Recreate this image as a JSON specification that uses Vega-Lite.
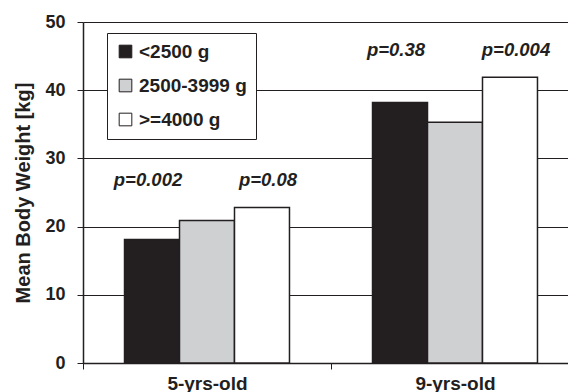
{
  "$schema": "https://vega.github.io/schema/vega-lite/v6.json",
  "width": 485,
  "height": 341,
  "autosize": "none",
  "padding": {"left": 83, "top": 22, "right": 0, "bottom": 29},
  "background": "white",
  "config": {
    "view": {"stroke": null},
    "font": "Liberation Sans",
    "axis": {"labelFont": "Liberation Sans", "titleFont": "Liberation Sans"}
  },
  "datasets": {
    "pvals": [
      {"age": "5-yrs-old", "group": "<2500 g", "pos": 26.8, "label": "p=0.002", "side": "left"},
      {"age": "5-yrs-old", "group": ">=4000 g", "pos": 26.8, "label": "p=0.08", "side": "right"},
      {"age": "9-yrs-old", "group": "<2500 g", "pos": 45.9, "label": "p=0.38", "side": "left"},
      {"age": "9-yrs-old", "group": ">=4000 g", "pos": 45.9, "label": "p=0.004", "side": "right"}
    ]
  },
  "layer": [
    {
      "data": {
        "values": [
          {"age": "5-yrs-old", "group": "<2500 g", "weight": 18.1},
          {"age": "5-yrs-old", "group": "2500-3999 g", "weight": 20.9},
          {"age": "5-yrs-old", "group": ">=4000 g", "weight": 22.8},
          {"age": "9-yrs-old", "group": "<2500 g", "weight": 38.2},
          {"age": "9-yrs-old", "group": "2500-3999 g", "weight": 35.3},
          {"age": "9-yrs-old", "group": ">=4000 g", "weight": 41.9}
        ]
      },
      "mark": {"type": "bar", "stroke": "#231f20", "strokeWidth": 1.5},
      "encoding": {
        "x": {
          "field": "age", "type": "nominal",
          "scale": {"range": [0, 496], "paddingInner": 0, "paddingOuter": 0},
          "axis": {
            "title": null, "labelAngle": 0, "tickBand": "extent",
            "labelFontSize": 19, "labelFontWeight": "bold", "labelColor": "#231f20",
            "labelPadding": 5, "tickSize": 6, "tickColor": "#231f20", "tickWidth": 1,
            "domainColor": "#231f20", "domainWidth": 1.5, "grid": false
          }
        },
        "xOffset": {
          "field": "group", "type": "nominal",
          "sort": ["<2500 g", "2500-3999 g", ">=4000 g"],
          "scale": {"paddingInner": 0, "paddingOuter": 0.755}
        },
        "y": {
          "field": "weight", "type": "quantitative",
          "scale": {"domain": [0, 50], "nice": false},
          "axis": {
            "title": "Mean Body Weight [kg]", "values": [0, 10, 20, 30, 40, 50],
            "titleFontSize": 20, "titleFontWeight": "bold", "titleColor": "#231f20", "titlePadding": 11,
            "labelFontSize": 18, "labelFontWeight": "bold", "labelColor": "#231f20", "labelPadding": 12,
            "tickSize": 6, "tickColor": "#231f20", "tickWidth": 1,
            "domainColor": "#231f20", "domainWidth": 1.5,
            "grid": true, "gridColor": "#231f20", "gridWidth": 1, "gridOpacity": 1
          }
        },
        "color": {
          "field": "group", "type": "nominal",
          "sort": ["<2500 g", "2500-3999 g", ">=4000 g"],
          "scale": {"domain": ["<2500 g", "2500-3999 g", ">=4000 g"], "range": ["#231f20", "#cfd0d2", "#ffffff"]},
          "legend": {
            "title": null, "orient": "none", "legendX": 24, "legendY": 11,
            "symbolType": "square", "symbolSize": 160, "symbolStrokeColor": "#231f20", "symbolStrokeWidth": 1,
            "symbolOpacity": 1,
            "labelFontSize": 19, "labelFontWeight": "bold", "labelColor": "#231f20", "labelFont": "Liberation Sans",
            "labelOffset": 4, "rowPadding": 14, "padding": 9,
            "strokeColor": "#231f20", "fillColor": "white"
          }
        }
      }
    },
    {
      "data": {"name": "pvals"},
      "transform": [{"filter": "datum.side === 'left'"}],
      "mark": {"type": "text", "fontSize": 18.5, "fontWeight": "bold", "fontStyle": "italic", "color": "#231f20", "baseline": "middle", "align": "center", "dx": -4},
      "encoding": {
        "x": {"field": "age", "type": "nominal"},
        "xOffset": {"field": "group", "type": "nominal", "sort": ["<2500 g", "2500-3999 g", ">=4000 g"]},
        "y": {"field": "pos", "type": "quantitative"},
        "text": {"field": "label", "type": "nominal"}
      }
    },
    {
      "data": {"name": "pvals"},
      "transform": [{"filter": "datum.side === 'right'"}],
      "mark": {"type": "text", "fontSize": 18.5, "fontWeight": "bold", "fontStyle": "italic", "color": "#231f20", "baseline": "middle", "align": "center", "dx": 6},
      "encoding": {
        "x": {"field": "age", "type": "nominal"},
        "xOffset": {"field": "group", "type": "nominal", "sort": ["<2500 g", "2500-3999 g", ">=4000 g"]},
        "y": {"field": "pos", "type": "quantitative"},
        "text": {"field": "label", "type": "nominal"}
      }
    }
  ]
}
